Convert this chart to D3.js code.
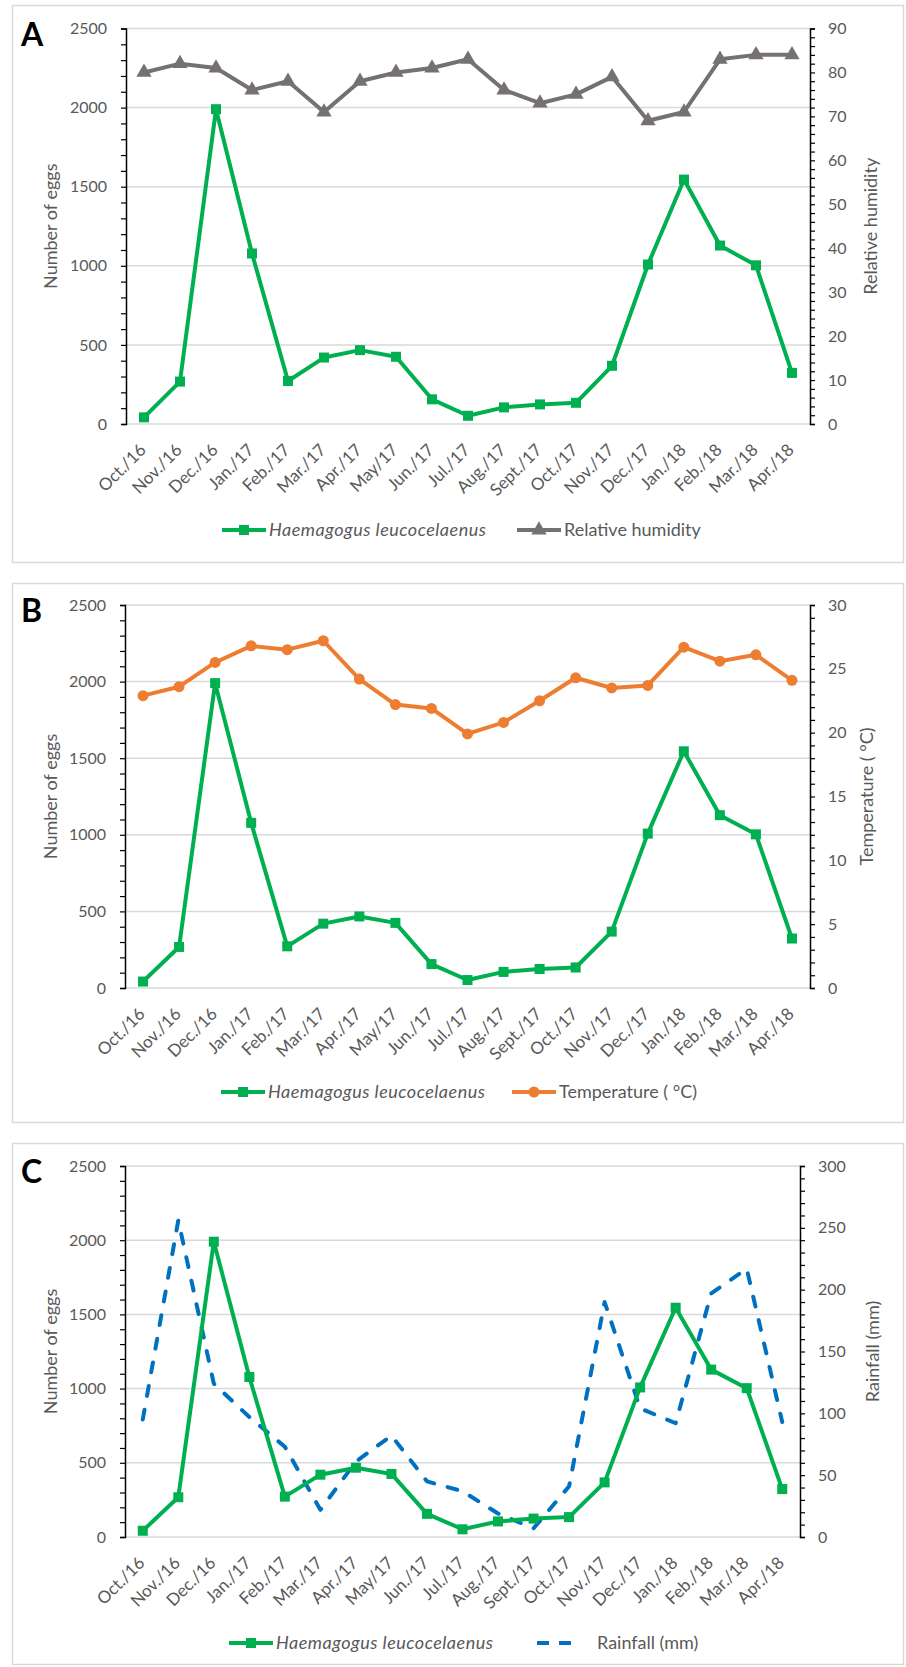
<!DOCTYPE html>
<html>
<head>
<meta charset="utf-8">
<script src="https://cdn.jsdelivr.net/npm/d3@7"></script>
<style>
  body { margin: 0; background: #fff; }
  svg { display: block; font-family: Lato, "Open Sans", sans-serif; }
</style>
</head>
<body>
<svg id="chart" width="906" height="1667"></svg>
<script>
// months on the category axis
let months = ["Oct./16", "Nov./16", "Dec./16", "Jan./17", "Feb./17", "Mar./17", "Apr./17", "May/17", "Jun./17",
  "Jul./17", "Aug./17", "Sept./17", "Oct./17", "Nov./17", "Dec./17", "Jan./18", "Feb./18", "Mar./18", "Apr./18"];

// Haemagogus leucocelaenus egg counts (left axis, same in all three panels)
let eggs = [42, 268, 1990, 1078, 272, 420, 467, 425, 156, 52, 105, 124, 134, 368, 1008, 1545, 1128, 1003, 323];

// secondary series (right axis)
let humidity = [80, 82, 81, 76, 78, 71, 78, 80, 81, 83, 76, 73, 75, 79, 69, 71, 83, 84, 84];
let temperature = [22.9, 23.6, 25.5, 26.8, 26.5, 27.2, 24.2, 22.2, 21.9, 19.9, 20.8, 22.5, 24.3, 23.5, 23.7, 26.7, 25.6, 26.1, 24.1];
let rainfall = [95, 256, 124, 97, 73, 22, 61, 82, 45, 37, 19, 7, 41, 190, 104, 92, 197, 217, 93];

let eggTicks = [0, 500, 1000, 1500, 2000, 2500];

const GREEN = "#00b050", GREY = "#767171", ORANGE = "#ed7d31", BLUE = "#0070c0";
const TXT = "#595959";

let svg = d3.select("#chart");

let panels = [
  { label: "A", frame: [12, 5, 903, 562], top: 28.5, bottom: 424, left: 126, right: 810,
    values: humidity, max: 90, major: 10, minor: 2, title: "Relative humidity", titleX: 871,
    color: GREY, marker: "triangle", dash: null, name: "Relative humidity",
    legendY: 530, legendX: [222, 517] },
  { label: "B", frame: [12, 583, 903, 1122], top: 605, bottom: 988, left: 125, right: 810,
    values: temperature, max: 30, major: 5, minor: 1, title: "Temperature ( °C)", titleX: 867,
    color: ORANGE, marker: "circle", dash: null, name: "Temperature ( °C)",
    legendY: 1092, legendX: [221, 512] },
  { label: "C", frame: [12, 1143, 903, 1664], top: 1166, bottom: 1537, left: 125, right: 800,
    values: rainfall, max: 300, major: 50, minor: 10, title: "Rainfall (mm)", titleX: 873,
    color: BLUE, marker: null, dash: "10,14", name: "Rainfall (mm)",
    legendY: 1643, legendX: [229, 537] }
];

let drawMarker = function (g, type, color, size) {
  if (type == "square") {
    g.append("rect").attr("x", -size / 2).attr("y", -size / 2)
      .attr("width", size).attr("height", size).attr("fill", color);
  } else if (type == "triangle") {
    g.append("path").attr("d", d3.symbol().type(d3.symbolTriangle).size(size * size * 0.6))
      .attr("fill", color);
  } else if (type == "circle") {
    g.append("circle").attr("r", size / 2).attr("fill", color);
  }
}

panels.forEach(p => {
  let g = svg.append("g");

  // panel frame
  g.append("rect")
    .attr("x", p.frame[0] + 0.5).attr("y", p.frame[1] + 0.5)
    .attr("width", p.frame[2] - p.frame[0]).attr("height", p.frame[3] - p.frame[1])
    .attr("fill", "none").attr("stroke", "#d9d9d9").attr("stroke-width", 1.5);

  let x = d3.scalePoint().domain(months).range([p.left, p.right]).padding(0.5);
  let yL = d3.scaleLinear().domain([0, 2500]).range([p.bottom, p.top]);
  let yR = d3.scaleLinear().domain([0, p.max]).range([p.bottom, p.top]);

  // gridlines
  g.selectAll(".grid").data(eggTicks.slice(1)).enter().append("line")
    .attr("x1", p.left).attr("x2", p.right)
    .attr("y1", d => yL(d)).attr("y2", d => yL(d))
    .attr("stroke", "#d9d9d9").attr("stroke-width", 1.5);

  // category axis line
  g.append("line").attr("x1", p.left).attr("x2", p.right)
    .attr("y1", p.bottom).attr("y2", p.bottom)
    .attr("stroke", "#d9d9d9").attr("stroke-width", 1.5);

  // left axis
  let leftAxis = d3.axisLeft(yL).tickValues(d3.range(0, 2501, 100))
    .tickSize(5).tickPadding(14)
    .tickFormat(d => d % 500 == 0 ? d : "");
  let la = g.append("g").attr("transform", "translate(" + p.left + ",0)").call(leftAxis);

  // right axis
  let rightAxis = d3.axisRight(yR).tickValues(d3.range(0, p.max + 0.001, p.minor))
    .tickSize(5).tickPadding(13)
    .tickFormat(d => Math.abs(d % p.major) < 1e-6 ? d : "");
  let ra = g.append("g").attr("transform", "translate(" + p.right + ",0)").call(rightAxis);

  [la, ra].forEach(a => {
    a.select(".domain").attr("stroke", "#000").attr("stroke-width", 1.5);
    a.selectAll(".tick line").attr("stroke", "#000").attr("stroke-width", 1.2);
    a.selectAll("text").attr("fill", TXT).style("font-size", "16px").style("font-family", "Lato");
  });

  // month labels
  g.selectAll(".mlab").data(months).enter().append("text")
    .attr("transform", d => "translate(" + (x(d) + 3) + "," + (p.bottom + 27) + ") rotate(-45)")
    .attr("text-anchor", "end")
    .attr("fill", TXT).style("font-size", "17px")
    .text(d => d);

  // axis titles
  let midY = (p.top + p.bottom) / 2;
  g.append("text").attr("transform", "translate(57," + midY + ") rotate(-90)")
    .attr("text-anchor", "middle").attr("fill", TXT).style("font-size", "18px")
    .text("Number of eggs");
  g.append("text").attr("transform", "translate(" + (p.titleX + 6) + "," + midY + ") rotate(-90)")
    .attr("text-anchor", "middle").attr("fill", TXT).style("font-size", "18px")
    .text(p.title);

  // panel letter
  g.append("text").attr("x", 21).attr("y", p.top + 17)
    .style("font-size", "32px").style("font-weight", "bold").attr("fill", "#000")
    .text(p.label);

  // secondary series
  let line2 = d3.line().x((d, i) => x(months[i])).y(d => yR(d));
  g.append("path").datum(p.values).attr("d", line2)
    .attr("fill", "none").attr("stroke", p.color).attr("stroke-width", 4)
    .attr("stroke-linejoin", "round")
    .attr("stroke-linecap", p.dash ? "round" : "butt")
    .attr("stroke-dasharray", p.dash);
  if (p.marker) {
    p.values.forEach((v, i) => {
      let m = g.append("g").attr("transform", "translate(" + x(months[i]) + "," + yR(v) + ")");
      drawMarker(m, p.marker, p.color, p.marker == "circle" ? 11 : 13);
    });
  }

  // eggs series
  let line1 = d3.line().x((d, i) => x(months[i])).y(d => yL(d));
  g.append("path").datum(eggs).attr("d", line1)
    .attr("fill", "none").attr("stroke", GREEN).attr("stroke-width", 4)
    .attr("stroke-linejoin", "round");
  eggs.forEach((v, i) => {
    let m = g.append("g").attr("transform", "translate(" + x(months[i]) + "," + yL(v) + ")");
    drawMarker(m, "square", GREEN, 10);
  });

  // legend
  let l1 = g.append("g").attr("transform", "translate(" + p.legendX[0] + "," + p.legendY + ")");
  l1.append("line").attr("x1", 0).attr("x2", 44).attr("stroke", GREEN).attr("stroke-width", 4);
  drawMarker(l1.append("g").attr("transform", "translate(22,0)"), "square", GREEN, 10);
  l1.append("text").attr("x", 47).attr("dy", "0.35em").attr("fill", TXT)
    .style("font-size", "18px").style("font-style", "italic").style("letter-spacing", "0.5px")
    .text("Haemagogus leucocelaenus");

  let l2 = g.append("g").attr("transform", "translate(" + p.legendX[1] + "," + p.legendY + ")");
  l2.append("line").attr("x1", 0).attr("x2", 44).attr("stroke", p.color).attr("stroke-width", 4)
    .attr("stroke-dasharray", p.dash ? "12,10" : null);
  if (p.marker) drawMarker(l2.append("g").attr("transform", "translate(22,0)"), p.marker, p.color, p.marker == "circle" ? 11 : 13);
  l2.append("text").attr("x", p.dash ? 60 : 47).attr("dy", "0.35em").attr("fill", TXT)
    .style("font-size", "18px")
    .text(p.name);
});
</script>
</body>
</html>
